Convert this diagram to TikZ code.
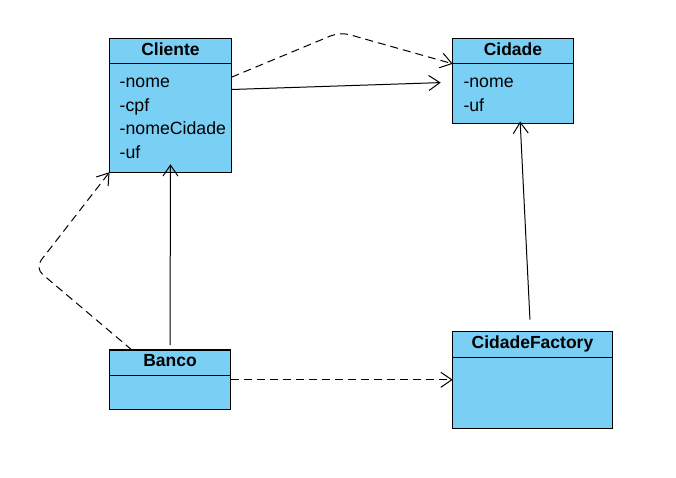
\documentclass[tikz,border=0pt]{standalone}
\usepackage{fontspec}
\setmainfont{Liberation Sans}
\usetikzlibrary{positioning,arrows.meta}

\definecolor{classblue}{RGB}{122,207,245}

\tikzset{
    classhead/.style={draw, fill=classblue, line width=1.2pt, anchor=north west,
        inner sep=0pt, outer sep=0pt, minimum height=25.5pt, text depth=4pt,
        font=\bfseries\fontsize{17.5}{20}\selectfont},
    classbody/.style={draw, fill=classblue, line width=1.2pt, inner sep=0pt, outer sep=0pt},
    attr/.style={anchor=base west, inner sep=0pt, font=\fontsize{17.7}{20}\selectfont},
    assoc/.style={line width=1pt, -{Straight Barb[length=11pt,width=15pt]}},
    dep/.style={assoc, dash pattern=on 8pt off 5pt}
}

\begin{document}
\begin{tikzpicture}[x=1pt, y=1pt]

    \useasboundingbox (0,0) rectangle (676,477);

    % classes
    \node[classhead, minimum width=122pt] (clientehead) at (109.5,438.7) {Cliente};
    \node[classbody, minimum width=122pt, minimum height=108.4pt, below=0pt of clientehead] (clientebody) {};
    \node[classhead, minimum width=120.5pt] (cidadehead) at (452.7,438.7) {Cidade};
    \node[classbody, minimum width=120.5pt, minimum height=59.4pt, below=0pt of cidadehead] (cidadebody) {};
    \node[classhead, minimum width=121pt] (bancohead) at (109.5,127) {Banco};
    \node[classbody, minimum width=121pt, minimum height=34.3pt, below=0pt of bancohead] (bancobody) {};
    \node[classhead, minimum width=159.5pt] (factoryhead) at (452.7,145.3) {CidadeFactory};
    \node[classbody, minimum width=159.5pt, minimum height=71pt, below=0pt of factoryhead] (factorybody) {};

    % attributes
    \foreach \a [count=\i] in {nome,cpf,nomeCidade,uf}
        \node[attr] (cliente\a) at ([shift={(10,-23.7*\i)}]clientebody.north west) {-\a};
    \foreach \a [count=\i] in {nome,uf}
        \node[attr] (cidade\a) at ([shift={(10.6,-23.7*\i)}]cidadebody.north west) {-\a};

    % connectors
    \coordinate (peak) at (340,445);
    \coordinate (bend) at (35,209);
    \draw[dep, rounded corners=10pt] ([yshift=-13.4pt]clientebody.north east) -- (peak) -- (cidadebody.north west);
    \draw[assoc, shorten >=12pt] ([yshift=-25.7pt]clientebody.north east) -- ([yshift=-18.4pt]cidadebody.north west);
    \draw[dep, rounded corners=10pt] ([xshift=22.4pt]bancohead.north west) -- (bend) -- (clientebody.south west);
    \draw[assoc] ([yshift=5pt]bancohead.north) -- ([yshift=8pt]clientebody.south);
    \draw[dep] ([yshift=-4.3pt]bancobody.north east) coordinate (bancoout) -- (bancoout -| factorybody.west);
    \draw[assoc] ([xshift=-2.5pt,yshift=12pt]factoryhead.north) -- ([xshift=7.2pt,yshift=1.7pt]cidadebody.south);

\end{tikzpicture}
\end{document}
